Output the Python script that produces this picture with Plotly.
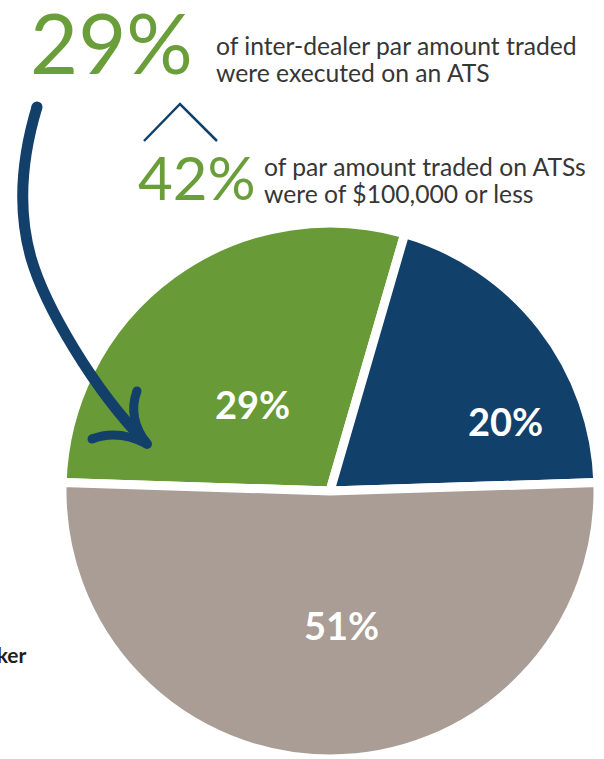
import plotly.graph_objects as go

W, H = 604, 759

# Inter-dealer par amount traded, split by venue (percent)
venues = ["ATS", "Broker's broker", "Dealer-to-dealer"]
shares = [29, 20, 51]
slice_colors = ["#689B38", "#11406B", "#A99D95"]

# Call-out figures
ats_share = 29
small_trade_share = 42
ats_text = ["of inter-dealer par amount traded", "were executed on an ATS"]
small_trade_text = ["of par amount traded on ATSs", "were of $100,000 or less"]
side_label = "Broker's Broker"

GREEN = "#6A9E3A"
NAVY = "#12406A"
TEXT = "#363636"
FONT = "Lato"

# pixel -> paper helpers (margins are zero, so paper == page)
def fx(x):
    return x / W


def fy(y):
    return 1 - y / H


def svg_path(cmds):
    parts = []
    for letter, pts in cmds:
        parts.append(letter + " " + " ".join(f"{fx(x):.5f},{fy(y):.5f}" for x, y in pts))
    return " ".join(parts)


# Pie placement: centre x, radius; bottom of the domain sits on the page edge
R = 268
CX = 330
CY = H - R

# Rotate so the dealer-to-dealer slice is centred on 6 o'clock
gray_deg = shares[2] / sum(shares) * 360
rotation = gray_deg / 2 - 180

fig = go.Figure()
fig.add_trace(go.Pie(
    labels=venues,
    values=shares,
    sort=False,
    direction="clockwise",
    rotation=rotation,
    marker=dict(colors=slice_colors, line=dict(color="white", width=9)),
    textinfo="none",
    hoverinfo="skip",
    showlegend=False,
    domain=dict(x=[fx(CX - R), fx(CX + R)], y=[0, fy(CY - R)]),
))

annotations = []


def label(text, x, baseline, size, color, anchor="left", bold=False, family=FONT):
    # place text by its baseline; box middle sits ~0.387em above the baseline
    annotations.append(dict(
        text=f"<b>{text}</b>" if bold else text,
        x=fx(x), y=fy(baseline - 0.387 * size),
        xref="paper", yref="paper",
        xanchor=anchor, yanchor="middle",
        showarrow=False,
        font=dict(family=family, size=size, color=color),
    ))


# Headline call-outs
BODY = 24.7
label(f"{ats_share}%", 28, 74, 83, GREEN)
label(ats_text[0], 214, 55, BODY, TEXT)
label(ats_text[1], 214, 82, BODY, TEXT)
label(f"{small_trade_share}%", 136, 200, 60, GREEN)
label(small_trade_text[0], 262, 176.5, BODY, TEXT)
label(small_trade_text[1], 262, 203.5, BODY, TEXT)

# Slice values
slice_label_pos = [(253, 419), (505, 436), (341, 640)]
for v, (x, base) in zip(shares, slice_label_pos):
    label(f"{v}%", x, base, 38, "white", anchor="center", bold=True)

# Side label (runs off the left edge)
label(side_label, 29, 663, 21, "#1E1E1E", anchor="right", bold=True)

shapes = []
# Chevron between the two call-outs
shapes.append(dict(
    type="path", xref="paper", yref="paper",
    path=svg_path([("M", [(144, 141)]), ("L", [(180, 104)]), ("L", [(217, 141)])]),
    line=dict(color=NAVY, width=2.5),
))
# Curved arrow pointing into the ATS slice
shapes.append(dict(
    type="path", xref="paper", yref="paper",
    path=svg_path([
        ("M", [(37, 107)]),
        ("C", [(24, 150), (16, 205), (31, 258)]),
        ("C", [(45, 306), (93, 389), (146, 443)]),
    ]),
    line=dict(color=NAVY, width=11),
))
shapes.append(dict(
    type="path", xref="paper", yref="paper",
    path=svg_path([("M", [(92, 439)]), ("Q", [(118, 429), (147, 444)])]),
    line=dict(color=NAVY, width=9),
))
shapes.append(dict(
    type="path", xref="paper", yref="paper",
    path=svg_path([("M", [(137, 391)]), ("Q", [(127, 418), (147, 444)])]),
    line=dict(color=NAVY, width=9),
))
# rounded stroke ends
for (x, y, r) in [(37, 107, 5.5), (92, 439, 4.5), (137, 391, 4.5), (147, 444, 5)]:
    shapes.append(dict(
        type="circle", xref="paper", yref="paper",
        x0=fx(x - r), x1=fx(x + r), y0=fy(y + r), y1=fy(y - r),
        fillcolor=NAVY, line=dict(width=0),
    ))

fig.update_layout(
    width=W, height=H,
    margin=dict(l=0, r=0, t=0, b=0, pad=0),
    paper_bgcolor="white",
    plot_bgcolor="white",
    annotations=annotations,
    shapes=shapes,
    showlegend=False,
)

fig.write_html("out.html")
